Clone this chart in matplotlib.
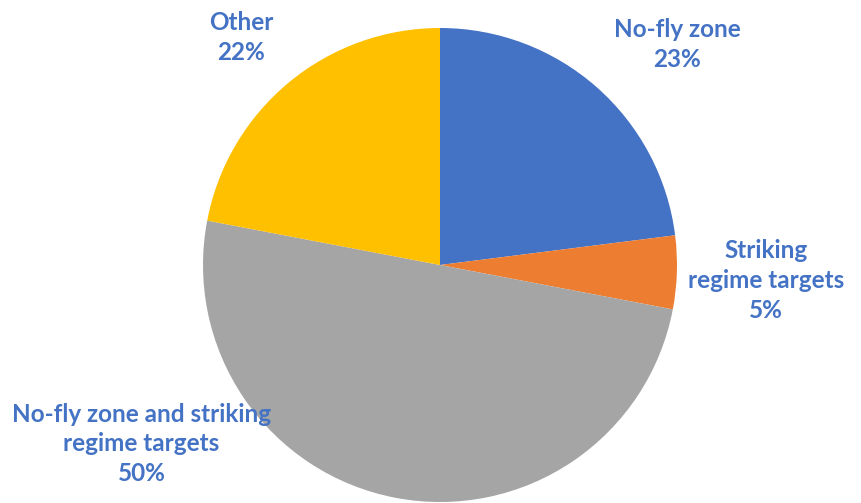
import matplotlib
matplotlib.use("Agg")
import matplotlib.pyplot as plt
import numpy as np

categories = ["No-fly zone", "Striking\nregime targets",
              "No-fly zone and striking\nregime targets", "Other"]
shares = [23, 5, 50, 22]

colors = ["#4472C4", "#ED7D31", "#A5A5A5", "#FFC000"]
label_color = "#4472C4"
# label centres, in units of pie radius
label_pos = [(1.00, 0.93), (1.375, -0.065), (-1.26, -0.755), (-0.84, 0.96)]

plt.rcParams["font.family"] = ["Lato", "DejaVu Sans"]

W, H = 862, 503
fig = plt.figure(figsize=(W / 100, H / 100), dpi=100)
cx, cy, r = 440, 265, 237
ax = fig.add_axes([(cx - r) / W, (H - cy - r) / H, 2 * r / W, 2 * r / H])

ax.pie(shares, colors=colors, startangle=90, counterclock=False,
       radius=1, wedgeprops=dict(linewidth=0))
ax.set_xlim(-1, 1)
ax.set_ylim(-1, 1)
ax.set_aspect("equal")
ax.axis("off")

for name, val, (lx, ly) in zip(categories, shares, label_pos):
    ax.text(lx, ly, f"{name}\n{val}%", ha="center", va="center",
            fontsize=17.5, fontweight="bold", color=label_color,
            linespacing=1.35, clip_on=False)

fig.savefig("out.png", dpi=100)
